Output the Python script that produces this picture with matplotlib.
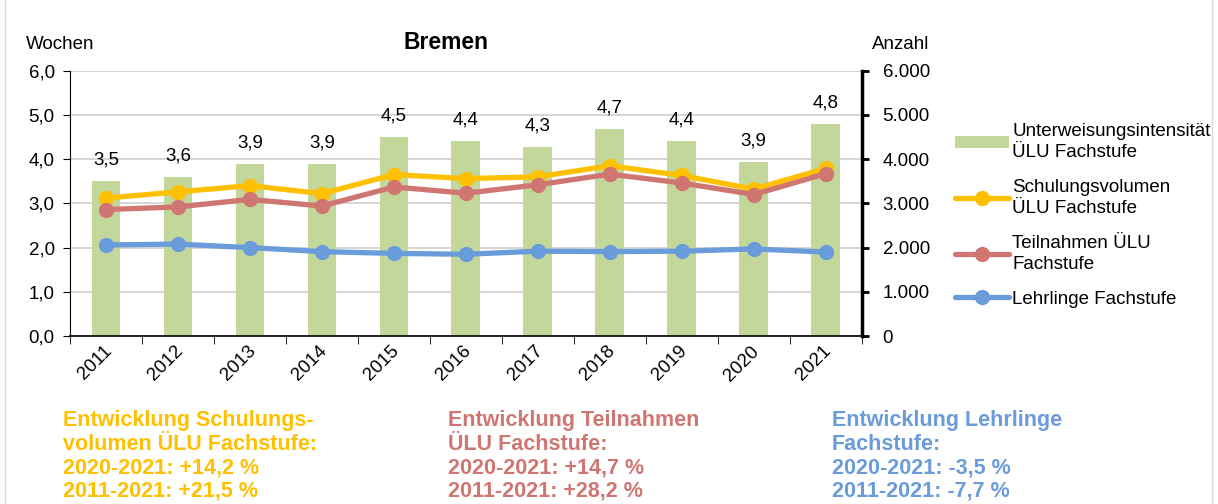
import numpy as np
import matplotlib
matplotlib.use("Agg")
import matplotlib.pyplot as plt
from matplotlib.ticker import FuncFormatter
from matplotlib.patches import Rectangle

plt.rcParams['font.family'] = ['Liberation Sans', 'DejaVu Sans']

# Daten
jahre = ["2011", "2012", "2013", "2014", "2015", "2016", "2017", "2018", "2019", "2020", "2021"]
intensitaet = [3.5, 3.6, 3.9, 3.9, 4.5, 4.4, 4.27, 4.69, 4.4, 3.94, 4.79]
schulungsvolumen = [3120, 3260, 3400, 3220, 3650, 3560, 3600, 3850, 3630, 3320, 3790]
teilnahmen = [2860, 2920, 3090, 2940, 3370, 3230, 3420, 3660, 3460, 3200, 3670]
lehrlinge = [2060, 2080, 2000, 1910, 1870, 1850, 1920, 1910, 1920, 1970, 1900]

c_bar = "#C4D79B"
c_gelb = "#FFC000"
c_rot = "#D07672"
c_blau = "#6A9BDA"

fig = plt.figure(figsize=(12.18, 5.04), dpi=100)
ax = fig.add_axes([0.0575, 0.333, 0.650, 0.527])
ax2 = ax.twinx()

x = np.arange(len(jahre))
ax.bar(x, intensitaet, width=0.4, color=c_bar, zorder=2,
       label="Unterweisungsintensität\nÜLU Fachstufe")
for xi, v in zip(x, intensitaet):
    ax.annotate(f"{v:.1f}".replace(".", ","), (xi, v), xytext=(0, 9),
                textcoords="offset points", ha="center", va="bottom", fontsize=13.5)

ax.set_ylim(0, 6)
ax.set_xlim(-0.5, len(jahre) - 0.5)
ax.set_yticks(np.arange(0, 7, 1))
ax.yaxis.set_major_formatter(FuncFormatter(lambda v, p: f"{v:.1f}".replace(".", ",")))
ax.grid(axis="y", color="#D0D0D0", linewidth=1.2, zorder=0)
ax.set_axisbelow(True)

ax.set_xticks(x + 0.04)
ax.set_xticklabels(jahre, rotation=45, ha="right", va="center",
                   rotation_mode="anchor", fontsize=13.5)
ax.set_xticks(np.arange(-0.5, len(jahre), 1), minor=True)
ax.tick_params(axis="x", which="major", length=0, pad=9)
ax.tick_params(axis="x", which="minor", length=6, direction="out", color="black")
ax.tick_params(axis="y", labelsize=13.5, length=5, pad=6, color="black")

for s in ["top", "right"]:
    ax.spines[s].set_visible(False)
ax.spines["left"].set_color("black")
ax.spines["bottom"].set_color("black")
ax.spines["bottom"].set_linewidth(1.2)

# Linien auf der rechten Achse
kw = dict(linewidth=3.8, marker="o", markersize=10, solid_capstyle="round")
ax2.plot(x, lehrlinge, color=c_blau, label="Lehrlinge Fachstufe", zorder=3, **kw)
ax2.plot(x, teilnahmen, color=c_rot, label="Teilnahmen ÜLU\nFachstufe", zorder=4, **kw)
ax2.plot(x, schulungsvolumen, color=c_gelb, label="Schulungsvolumen\nÜLU Fachstufe", zorder=3, **kw)
ax2.set_ylim(0, 6000)
ax2.set_yticks(np.arange(0, 7000, 1000))
ax2.yaxis.set_major_formatter(FuncFormatter(lambda v, p: f"{int(v):,}".replace(",", ".")))
ax2.tick_params(axis="y", labelsize=13.5, length=5, width=2, pad=10, color="black")
for s in ["top", "left", "bottom"]:
    ax2.spines[s].set_visible(False)
ax2.spines["right"].set_linewidth(2.5)
ax2.spines["right"].set_color("black")

# Beschriftungen
fig.text(0.366, 0.915, "Bremen", fontsize=16.5, fontweight="bold", ha="center", va="center")
fig.text(0.021, 0.912, "Wochen", fontsize=13.5, ha="left", va="center")
fig.text(0.716, 0.912, "Anzahl", fontsize=13.5, ha="left", va="center")

h1, l1 = ax.get_legend_handles_labels()
h2, l2 = ax2.get_legend_handles_labels()
handles = [h1[0], h2[2], h2[1], h2[0]]
labels = [l1[0], l2[2], l2[1], l2[0]]
leg = fig.legend(handles, labels, loc="upper left", bbox_to_anchor=(0.784, 0.755),
                 frameon=False, fontsize=13.5, handlelength=2.9, handleheight=0.6,
                 handletextpad=0.15, labelspacing=0.95, borderaxespad=0, borderpad=0)
for t in leg.get_texts():
    t.set_linespacing(1.3)

# Entwicklung Texte
bf = dict(fontsize=15.5, fontweight="bold", ha="left", va="center")
spalten = [
    (0.052, c_gelb, ["Entwicklung Schulungs-", "volumen ÜLU Fachstufe:", "2020-2021: +14,2 %", "2011-2021: +21,5 %"]),
    (0.368, c_rot, ["Entwicklung Teilnahmen", "ÜLU Fachstufe:", "2020-2021: +14,7 %", "2011-2021: +28,2 %"]),
    (0.683, c_blau, ["Entwicklung Lehrlinge", "Fachstufe:", "2020-2021: -3,5 %", "2011-2021: -7,7 %"]),
]
for xs, col, zeilen in spalten:
    for i, z in enumerate(zeilen):
        fig.text(xs, 0.166 - i * 0.047, z, color=col, **bf)

# Rahmen
fig.patches.append(Rectangle((0.004, -0.01), 0.991, 1.02, transform=fig.transFigure,
                             fill=False, edgecolor="#D9D9D9", linewidth=1))

fig.savefig("out.png", dpi=100)
